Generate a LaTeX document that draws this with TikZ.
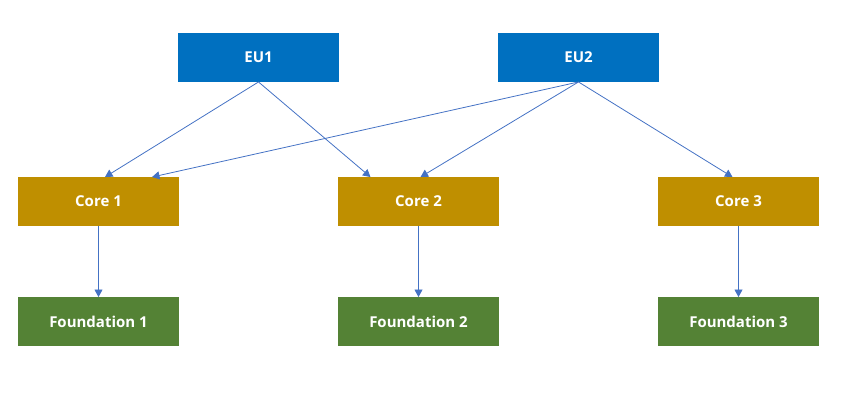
\documentclass[tikz,border=0pt]{standalone}
\usepackage{fontspec}
\setmainfont{Open Sans}
\usetikzlibrary{arrows.meta}
\definecolor{eublue}{HTML}{0070C0}
\definecolor{coregold}{HTML}{BF8F00}
\definecolor{foundgreen}{HTML}{548235}
\definecolor{linkblue}{HTML}{4472C4}
\tikzset{
  box/.style={rectangle, inner sep=0pt, minimum width=161pt, minimum height=48.5pt, text=white, font=\fontsize{15}{17}\selectfont\bfseries},
  eu/.style={box, fill=eublue},
  core/.style={box, fill=coregold},
  found/.style={box, fill=foundgreen},
  link/.style={draw=linkblue, line width=0.8pt, -{Triangle[width=8pt,length=7.5pt]}}
}
\begin{document}
\begin{tikzpicture}[x=1pt, y=-1pt]
        \useasboundingbox (0,0) rectangle (865,408);
        \node[eu] (eu1) at (258.5,57.5) {EU1};
        \node[eu] (eu2) at (578.5,57.5) {EU2};
        \node[core] (core1) at (98.5,201.5) {Core 1};
        \node[core] (core2) at (418.5,201.5) {Core 2};
        \node[core] (core3) at (738.5,201.5) {Core 3};
        \node[found] (found1) at (98.5,321.5) {Foundation 1};
        \node[found] (found2) at (418.5,321.5) {Foundation 2};
        \node[found] (found3) at (738.5,321.5) {Foundation 3};
        % EU to core
        \draw[link] (eu1.south) -- ([xshift=6.5pt]core1.north);
        \draw[link] (eu1.south) -- ([xshift=-48pt]core2.north);
        \draw[link] (eu2.south) -- ([xshift=53.5pt]core1.north);
        \draw[link] (eu2.south) -- ([xshift=2pt]core2.north);
        \draw[link] (eu2.south) -- ([xshift=-6pt]core3.north);
        % core to foundation
        \draw[link] (core1.south) -- (found1.north);
        \draw[link] (core2.south) -- (found2.north);
        \draw[link] (core3.south) -- (found3.north);
      \end{tikzpicture}
\end{document}
